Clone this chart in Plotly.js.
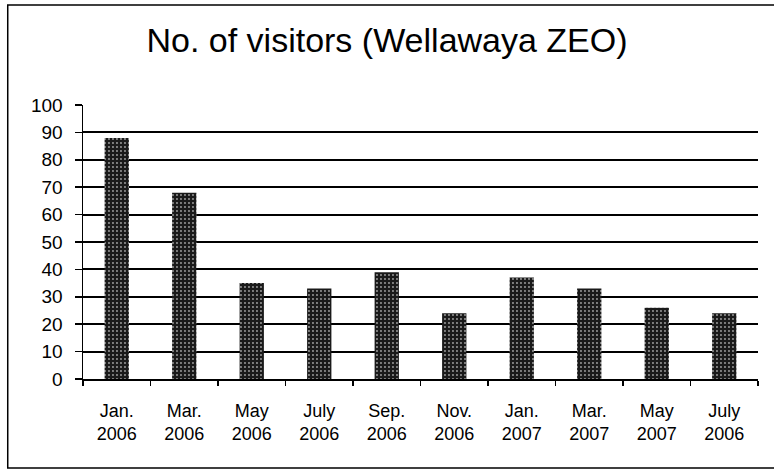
<!DOCTYPE html>
<html>
<head>
<meta charset="utf-8">
<script src="https://cdn.plot.ly/plotly-3.0.1.min.js"></script>
<style>
  html, body { margin: 0; padding: 0; background: #ffffff; }
  #chart { width: 774px; height: 470px; }
</style>
</head>
<body>
<div id="chart"></div>
<script>
// Visit periods (two-line tick labels) and visitor counts
const periods = [
  "Jan.<br>2006", "Mar.<br>2006", "May<br>2006", "July<br>2006", "Sep.<br>2006",
  "Nov.<br>2006", "Jan.<br>2007", "Mar.<br>2007", "May<br>2007", "July<br>2006"
];
const visitors = [88, 68, 35, 33, 39, 24, 37, 33, 26, 24];
const yTicks = [0, 10, 20, 30, 40, 50, 60, 70, 80, 90, 100];

// Each period gets its own slot (two labels repeat, so slots are indexed)
const slots = periods.map((_, i) => i);
const slotEdges = periods.map((_, i) => i - 0.5).concat([periods.length - 0.5]);

const font = "'Liberation Sans', Arial, sans-serif";

const trace = {
  type: "bar",
  x: slots,
  y: visitors,
  width: 0.36,
  marker: {
    color: "#1c1c1c",
    line: { width: 0 },
    pattern: { shape: ".", fgcolor: "#a0a0a0", bgcolor: "#1a1a1a", size: 4, solidity: 0.18 }
  },
  hoverinfo: "y"
};

const layout = {
  width: 774,
  height: 470,
  paper_bgcolor: "#ffffff",
  plot_bgcolor: "#ffffff",
  margin: { l: 83, r: 16, t: 105, b: 91 },
  showlegend: false,
  title: {
    text: "No. of visitors (Wellawaya ZEO)",
    font: { family: font, size: 34, color: "#000000" },
    x: 0.5, xanchor: "center",
    y: 0.915, yanchor: "middle"
  },
  xaxis: {
    range: [-0.5, periods.length - 0.5],
    tickvals: slots,
    ticktext: periods,
    ticks: "",
    ticklabelstandoff: 14,
    minor: {
      tickvals: slotEdges,
      ticks: "outside",
      ticklen: 5,
      tickcolor: "#000000",
      tickwidth: 1.5,
      showgrid: false
    },
    showline: true,
    linecolor: "#000000",
    linewidth: 2,
    showgrid: false,
    zeroline: false,
    tickfont: { family: font, size: 18, color: "#000000" },
    fixedrange: true
  },
  yaxis: {
    range: [0, 100],
    tickvals: yTicks,
    ticks: "outside",
    ticklen: 7,
    tickcolor: "#000000",
    tickwidth: 1.5,
    ticklabelstandoff: 8,
    showline: true,
    linecolor: "#000000",
    linewidth: 1.5,
    showgrid: true,
    gridcolor: "#000000",
    gridwidth: 2,
    zeroline: false,
    tickfont: { family: font, size: 19, color: "#000000" },
    fixedrange: true
  },
  shapes: [
    // outer frame around the whole chart
    {
      type: "rect", xref: "paper", yref: "paper",
      x0: -0.1115, x1: 1.06, y0: -0.325, y1: 1.365,
      line: { color: "#000000", width: 1.5 },
      fillcolor: "rgba(0,0,0,0)"
    }
  ]
};

Plotly.newPlot("chart", [trace], layout, { displayModeBar: false, staticPlot: true });
</script>
</body>
</html>
